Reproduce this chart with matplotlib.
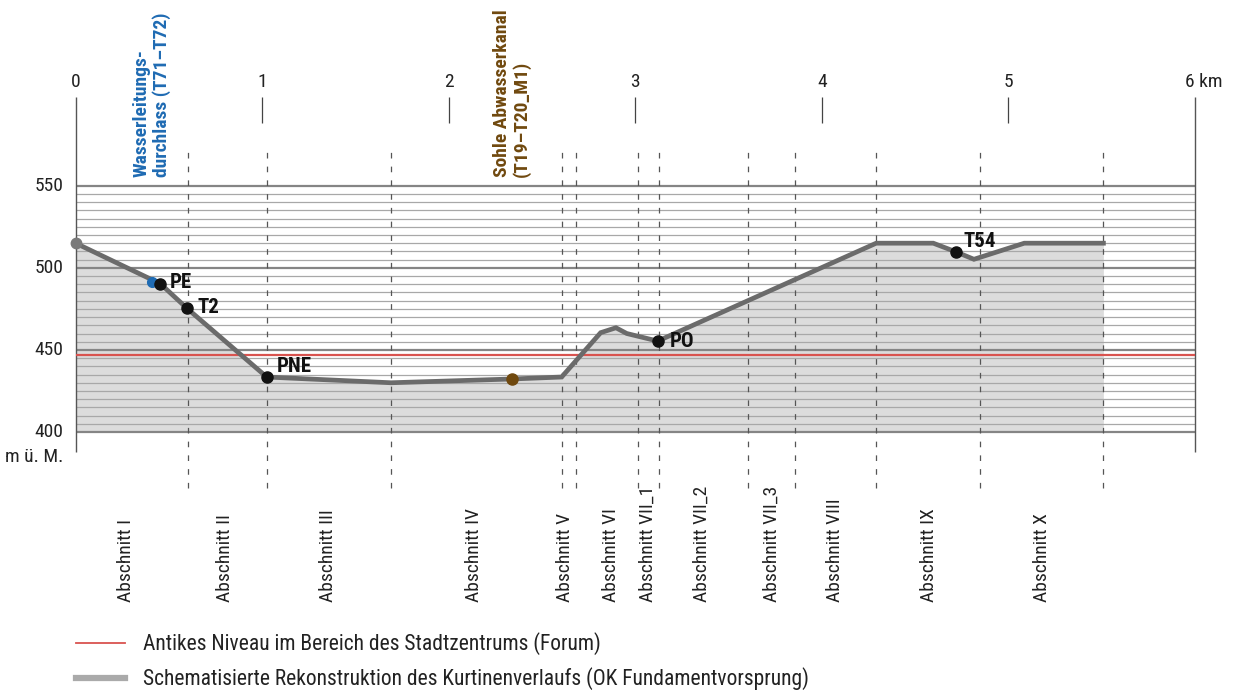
import numpy as np
import matplotlib.pyplot as plt
from matplotlib import font_manager as fm

# schmale Schrift suchen (Original: Condensed-Font)
FONT, STRETCH, FS = "DejaVu Sans", "normal", 0.82
_cands = [("Roboto Condensed", "normal"), ("Liberation Sans Narrow", "normal"),
          ("DejaVu Sans Condensed", "normal"), ("Open Sans Condensed", "normal"),
          ("Noto Sans Condensed", "normal"),
          ("DejaVu Sans", "condensed"), ("Noto Sans", "condensed"),
          ("Open Sans", "condensed"), ("Roboto", "condensed")]
_fonts = fm.fontManager.ttflist
for name, st in _cands:
    hits = [f for f in _fonts if f.name == name
            and (st == "normal" or f.stretch in ("condensed", "semi-condensed"))]
    if hits:
        FONT = name
        STRETCH = "normal" if st == "normal" else hits[0].stretch
        FS = 1.0
        break

plt.rcParams["font.family"] = [FONT, "DejaVu Sans"]
plt.rcParams["font.stretch"] = STRETCH

# ── data ─────────────────────────────────────────────
KM_TICKS = [0, 1, 2, 3, 4, 5, 6]
KM_LABELS = ["0", "1", "2", "3", "4", "5", "6 km"]
Y_TICKS = [400, 450, 500, 550]

# Kurtinenverlauf (km, m ü. M.)
PROFILE_KM = [0.0, 0.454, 0.597, 1.024, 1.690, 2.339, 2.605, 2.814, 2.896,
              2.954, 3.120, 4.291, 4.597, 4.717, 4.815, 5.085, 5.509]
PROFILE_H = [515, 490.3, 475.3, 433.5, 430.0, 432.3, 433.5, 460.5, 463.5,
             460.0, 455.4, 515, 515, 509.8, 505.2, 515, 515]

ANTIK_NIVEAU = 447.2

SECTION_BOUNDS = [0.600, 1.024, 1.690, 2.605, 2.682, 3.012, 3.125, 3.602,
                  3.854, 4.291, 4.850, 5.509]
SECTION_NAMES = ["Abschnitt I", "Abschnitt II", "Abschnitt III", "Abschnitt IV",
                 "Abschnitt V", "Abschnitt VI", "Abschnitt VII_1",
                 "Abschnitt VII_2", "Abschnitt VII_3", "Abschnitt VIII",
                 "Abschnitt IX", "Abschnitt X"]
SECTION_POS = [0.272, 0.800, 1.352, 2.135, 2.623, 2.870, 3.066, 3.357,
               3.730, 4.070, 4.574, 5.180]

POINT_NAMES = ["PE", "T2", "PNE", "PO", "T54"]
POINT_KM = [0.454, 0.597, 1.024, 3.120, 4.717]
POINT_H = [490.3, 475.3, 433.5, 455.4, 509.8]

WASSER_KM, WASSER_H = 0.407, 491.5
ABWASSER_KM, ABWASSER_H = 2.339, 432.3

# ── figure (axes over whole canvas, data coords everywhere) ──
fig = plt.figure(figsize=(12.33, 6.9), dpi=100)
ax = fig.add_axes([0, 0, 1, 1])
ax.set_xlim(-0.4058, 6.2037)
ax.set_ylim(242.9, 663.1)
ax.axis("off")

# gray fill under profile
ax.fill_between(PROFILE_KM, 400, PROFILE_H, color="#dcdcdc", lw=0, zorder=1)

# horizontal grid every 5 m
minor = [h for h in range(405, 550, 5) if h % 50 != 0]
ax.hlines(minor, 0, 6, color="#a8a8a8", lw=0.9, zorder=2)
ax.hlines(Y_TICKS, 0, 6, color="#858585", lw=1.6, zorder=2)

# antikes Niveau
ax.hlines(ANTIK_NIVEAU, 0, 6, color="#d9534f", lw=1.6, zorder=3)

# section boundaries
ax.vlines(SECTION_BOUNDS, 365.9, 571.7, color="#555555", lw=0.9,
          linestyles=(0, (4.5, 6.5)), zorder=2)

# km axis
ax.vlines([0, 6], 387.8, 604.0, color="#555555", lw=1.0, zorder=2)
ax.vlines(KM_TICKS[1:-1], 588.2, 604.0, color="#444444", lw=0.9, zorder=2)
for k, lab in zip(KM_TICKS, KM_LABELS):
    if lab.endswith("km"):
        ax.text(k - 0.054, 613.2, lab, ha="left", va="center", fontsize=14 * FS,
                color="#222222")
    else:
        ax.text(k, 613.2, lab, ha="center", va="center", fontsize=14 * FS,
                color="#222222")

for h in Y_TICKS:
    ax.text(-0.068, h, str(h), ha="right", va="center", fontsize=14 * FS,
            color="#222222")
ax.text(-0.068, 385, "m ü. M.", ha="right", va="center", fontsize=14 * FS,
        color="#222222")

# profile
ax.plot(PROFILE_KM, PROFILE_H, color="#6b6b6b", lw=3.4, zorder=4,
        solid_joinstyle="miter")
ax.plot(PROFILE_KM[0], PROFILE_H[0], "o", color="#7a7a7a", ms=7.5, zorder=5)

ax.plot(WASSER_KM, WASSER_H, "o", color="#1f6bb3", ms=7, zorder=5)
ax.plot(ABWASSER_KM, ABWASSER_H, "o", color="#70490f", ms=8, zorder=5)
ax.plot(POINT_KM, POINT_H, "o", color="#111111", ms=8, zorder=6)

offsets = {"PE": (0.05, 0.5), "T2": (0.058, 0.5), "PNE": (0.055, 6.5),
           "PO": (0.065, -0.5), "T54": (0.04, 6.5)}
for name, k, h in zip(POINT_NAMES, POINT_KM, POINT_H):
    dx, dy = offsets[name]
    ax.text(k + dx, h + dy, name, ha="left", va="center", fontsize=15 * FS,
            fontweight="bold", color="#111111", zorder=7)

# upper annotations
ax.text(WASSER_KM, 555.3, "Wasserleitungs-\ndurchlass (T71–T72)", rotation=90,
        ha="center", va="bottom", multialignment="left", fontsize=14 * FS,
        fontweight="bold", color="#1f6bb3", linespacing=1.1)
ax.text(ABWASSER_KM, 555.3, "Sohle Abwasserkanal\n(T19–T20_M1)", rotation=90,
        ha="center", va="bottom", multialignment="left", fontsize=14 * FS,
        fontweight="bold", color="#70490f", linespacing=1.1)

# section names
for name, k in zip(SECTION_NAMES, SECTION_POS):
    ax.text(k, 296.5, name, rotation=90, ha="center", va="bottom",
            fontsize=14 * FS, color="#222222")

# legend
ax.plot([0.0, 0.265], [271.5, 271.5], color="#d9534f", lw=1.3)
ax.plot([0.0, 0.265], [250.2, 250.2], color="#aaaaaa", lw=4.5)
ax.text(0.361, 271.5, "Antikes Niveau im Bereich des Stadtzentrums (Forum)",
        ha="left", va="center", fontsize=15.5 * FS, color="#222222")
ax.text(0.361, 250.2,
        "Schematisierte Rekonstruktion des Kurtinenverlaufs (OK Fundamentvorsprung)",
        ha="left", va="center", fontsize=15.5 * FS, color="#222222")

fig.savefig("out.png", dpi=100)
